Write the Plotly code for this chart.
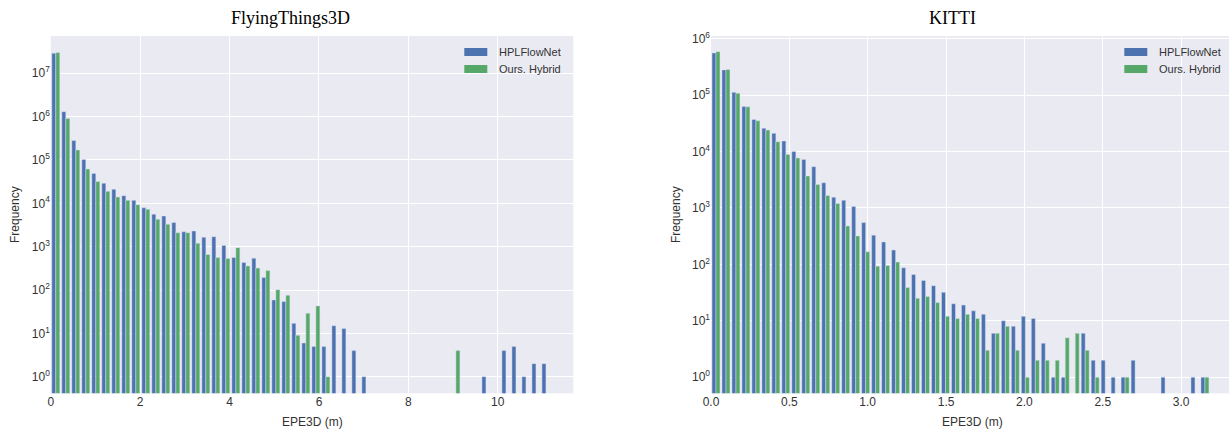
import numpy as np
import plotly.graph_objects as go

# ---------------- data ----------------
n_bins = 50
ft_max_epe = 11.19
kitti_max_epe = 3.184

ft_hpl = [2.9e7, 1.3e6, 2.8e5, 1.02e5, 4.9e4, 2.9e4, 2.1e4, 1.5e4, 1.17e4, 7.9e3,
          5.6e3, 5.1e3, 3.6e3, 2.2e3, 2.3e3, 1650, 1700, 1070, 560, 430,
          540, 195, 59, 54, 17, 6, 5, 5, 15, 13,
          4, 1, 0, 0, 0, 0, 0, 0, 0, 0,
          0, 0, 0, 1, 0, 4, 5, 1, 2, 2]
ft_ours = [3.0e7, 9.1e5, 1.7e5, 6.2e4, 3.2e4, 1.9e4, 1.4e4, 1.17e4, 9.3e3, 7.3e3,
           4.3e3, 3.3e3, 2.1e3, 2.1e3, 1.2e3, 660, 560, 530, 950, 360,
           320, 280, 102, 76, 9, 29, 43, 1, 0, 0,
           0, 0, 0, 0, 0, 0, 0, 0, 0, 0,
           4, 0, 0, 0, 0, 0, 0, 0, 0, 0]

kitti_hpl = [5.6e5, 2.8e5, 1.12e5, 6.3e4, 3.7e4, 2.6e4, 2.1e4, 1.54e4, 1.0e4, 7.2e3,
             5.4e3, 2.8e3, 1.55e3, 1.37e3, 1.06e3, 550, 330, 250, 180, 87,
             66, 52, 42, 32, 20, 19, 15, 13, 6, 10,
             8, 12, 11, 4, 1, 1, 0, 6, 2, 2,
             1, 1, 2, 0, 0, 1, 0, 0, 1, 1]
kitti_ours = [5.9e5, 2.85e5, 1.08e5, 6.2e4, 3.5e4, 2.4e4, 1.49e4, 8.9e3, 7.7e3, 3.7e3,
              2.6e3, 1.67e3, 1.2e3, 480, 320, 167, 93, 96, 110, 39,
              25, 27, 21, 12, 11, 13, 11, 3, 6, 8,
              3, 1, 2, 2, 2, 5, 6, 3, 1, 0,
              0, 1, 0, 0, 0, 0, 0, 0, 0, 1]

series_names = ["HPLFlowNet", "Ours. Hybrid"]
titles = ["FlyingThings3D", "KITTI"]
x_label = "EPE3D (m)"
y_label = "Frequency"
ft_xticks = [0, 2, 4, 6, 8, 10]
kitti_xticks = [0.0, 0.5, 1.0, 1.5, 2.0, 2.5, 3.0]
ft_ytick_exp = [0, 1, 2, 3, 4, 5, 6, 7]
kitti_ytick_exp = [0, 1, 2, 3, 4, 5, 6]

# ---------------- style ----------------
BLUE = "#4C72B0"
GREEN = "#55A868"
BG = "#EAEAF2"
TXT = "#333333"
SANS = "Liberation Sans, Arial, sans-serif"
SERIF = "Liberation Serif, Times New Roman, serif"

W, H = 1229, 430
COLORS = [BLUE, GREEN]


def centers(max_v):
    edges = np.linspace(0, max_v, n_bins + 1)
    return (edges[:-1] + edges[1:]) / 2


def clean(vals):
    return [v if v > 0 else None for v in vals]


fig = go.Figure()

panels = [
    dict(xc=centers(ft_max_epe), a=ft_hpl, b=ft_ours, xa="x", ya="y"),
    dict(xc=centers(kitti_max_epe), a=kitti_hpl, b=kitti_ours, xa="x2", ya="y2"),
]
for p in panels:
    for vals, col, nm in [(p["a"], COLORS[0], series_names[0]), (p["b"], COLORS[1], series_names[1])]:
        fig.add_trace(go.Bar(
            x=p["xc"], y=clean(vals), name=nm, xaxis=p["xa"], yaxis=p["ya"],
            marker=dict(color=col, line=dict(color="rgba(220,225,245,0.8)", width=0.6)),
            offsetgroup=nm, showlegend=False,
        ))

px = lambda v: v / W
py = lambda v: 1 - v / H

y_dom = [py(393.3), py(36)]
common_x = dict(showgrid=True, gridcolor="white", gridwidth=1, zeroline=False, automargin=False,
                showline=False, ticks="", tickfont=dict(family=SANS, size=12, color=TXT))
common_y = dict(type="log", showgrid=True, gridcolor="white", gridwidth=1, zeroline=False,
                automargin=False, showline=False, ticks="",
                tickfont=dict(family=SANS, size=12, color=TXT))

fig.update_layout(
    template=None,
    width=W, height=H,
    margin=dict(l=0, r=0, t=0, b=0, pad=0),
    paper_bgcolor="white", plot_bgcolor=BG,
    barmode="group", bargap=0.2, bargroupgap=0,
    showlegend=False,
    xaxis=dict(domain=[px(50.8), px(573.3)], range=[0, 11.69], anchor="y",
               tickvals=ft_xticks, ticktext=[str(t) for t in ft_xticks], **common_x),
    yaxis=dict(domain=y_dom, range=[-0.383, 7.86], anchor="x",
               tickvals=[10 ** e for e in ft_ytick_exp],
               ticktext=[f"10<sup>{e}</sup>" for e in ft_ytick_exp], **common_y),
    xaxis2=dict(domain=[px(711), 1.0], range=[0, (W - 711) / 156.7], anchor="y2",
                tickvals=kitti_xticks, ticktext=[f"{t:.1f}" for t in kitti_xticks], **common_x),
    yaxis2=dict(domain=y_dom, range=[-0.285, 6.048], anchor="x2",
                tickvals=[10 ** e for e in kitti_ytick_exp],
                ticktext=[f"10<sup>{e}</sup>" for e in kitti_ytick_exp], **common_y),
)

annos = [
    dict(text=titles[0], x=px(290), y=py(18), font=dict(family=SERIF, size=18, color="black")),
    dict(text=titles[1], x=px(952), y=py(18), font=dict(family=SERIF, size=18, color="black")),
    dict(text=x_label, x=px(312), y=py(422), font=dict(family=SANS, size=12, color=TXT)),
    dict(text=x_label, x=px(972), y=py(422), font=dict(family=SANS, size=12, color=TXT)),
    dict(text=y_label, x=px(15), y=py(215), textangle=-90, font=dict(family=SANS, size=12, color=TXT)),
    dict(text=y_label, x=px(676), y=py(215), textangle=-90, font=dict(family=SANS, size=12, color=TXT)),
]
for a in annos:
    fig.add_annotation(xref="paper", yref="paper", showarrow=False,
                       xanchor="center", yanchor="middle", **a)

# matplotlib-style legends (patch + label) in the upper right of each panel
legend_pos = [(464.3, 497.3), (1124.3, 1157.3)]
row_y = [52, 69]
for (patch_x, text_x) in legend_pos:
    for i, nm in enumerate(series_names):
        fig.add_shape(type="rect", xref="paper", yref="paper",
                      x0=px(patch_x), x1=px(patch_x + 23),
                      y0=py(row_y[i] + 4), y1=py(row_y[i] - 4),
                      fillcolor=COLORS[i], line=dict(width=0))
        fig.add_annotation(xref="paper", yref="paper", showarrow=False,
                           x=px(text_x), y=py(row_y[i]), xanchor="left", yanchor="middle",
                           text=nm, font=dict(family=SANS, size=11, color=TXT))

fig.write_html("out.html", config={"displayModeBar": False},
               post_script="document.body.style.margin='0';document.body.style.overflow='hidden';")
